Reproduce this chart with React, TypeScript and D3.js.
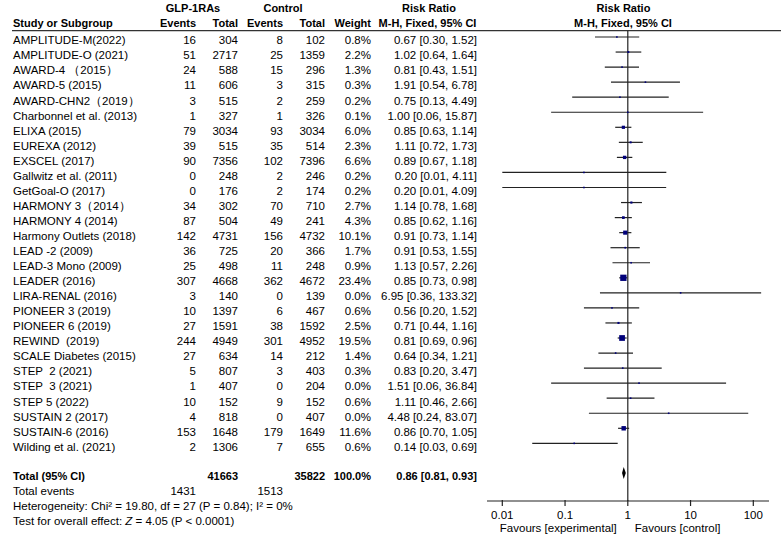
import React from "react";
import * as d3 from "d3";

const studies = [
  "AMPLITUDE-M(2022)", "AMPLITUDE-O (2021)", "AWARD-4 （2015）", "AWARD-5 (2015)", "AWARD-CHN2（2019）",
  "Charbonnel et al. (2013)", "ELIXA (2015)", "EUREXA (2012)", "EXSCEL (2017)", "Gallwitz et al. (2011)",
  "GetGoal-O (2017)", "HARMONY 3（2014）", "HARMONY 4 (2014)", "Harmony Outlets (2018)", "LEAD -2 (2009)",
  "LEAD-3 Mono (2009)", "LEADER (2016)", "LIRA-RENAL (2016)", "PIONEER 3 (2019)", "PIONEER 6 (2019)",
  "REWIND  (2019)", "SCALE Diabetes (2015)", "STEP  2 (2021)", "STEP  3 (2021)", "STEP 5 (2022)",
  "SUSTAIN 2 (2017)", "SUSTAIN-6 (2016)", "Wilding et al. (2021)",
];
const expEvents = [16, 51, 24, 11, 3, 1, 79, 39, 90, 0, 0, 34, 87, 142, 36, 25, 307, 3, 10, 27, 244, 27, 5, 1, 10, 4, 153, 2];
const expTotal = [304, 2717, 588, 606, 515, 327, 3034, 515, 7356, 248, 176, 302, 504, 4731, 725, 498, 4668, 140, 1397, 1591, 4949, 634, 807, 407, 152, 818, 1648, 1306];
const ctlEvents = [8, 25, 15, 3, 2, 1, 93, 35, 102, 2, 2, 70, 49, 156, 20, 11, 362, 0, 6, 38, 301, 14, 3, 0, 9, 0, 179, 7];
const ctlTotal = [102, 1359, 296, 315, 259, 326, 3034, 514, 7396, 246, 174, 710, 241, 4732, 366, 248, 4672, 139, 467, 1592, 4952, 212, 403, 204, 152, 407, 1649, 655];
const weights = [0.8, 2.2, 1.3, 0.3, 0.2, 0.1, 6.0, 2.3, 6.6, 0.2, 0.2, 2.7, 4.3, 10.1, 1.7, 0.9, 23.4, 0.0, 0.6, 2.5, 19.5, 1.4, 0.3, 0.0, 0.6, 0.0, 11.6, 0.6];
const rr = [0.67, 1.02, 0.81, 1.91, 0.75, 1.0, 0.85, 1.11, 0.89, 0.2, 0.2, 1.14, 0.85, 0.91, 0.91, 1.13, 0.85, 6.95, 0.56, 0.71, 0.81, 0.64, 0.83, 1.51, 1.11, 4.48, 0.86, 0.14];
const lower = [0.3, 0.64, 0.43, 0.54, 0.13, 0.06, 0.63, 0.72, 0.67, 0.01, 0.01, 0.78, 0.62, 0.73, 0.53, 0.57, 0.73, 0.36, 0.2, 0.44, 0.69, 0.34, 0.2, 0.06, 0.46, 0.24, 0.7, 0.03];
const upper = [1.52, 1.64, 1.51, 6.78, 4.49, 15.87, 1.14, 1.73, 1.18, 4.11, 4.09, 1.68, 1.16, 1.14, 1.55, 2.26, 0.98, 133.32, 1.52, 1.16, 0.96, 1.21, 3.47, 36.84, 2.66, 83.07, 1.05, 0.69];

const totalRR = 0.86;
const totalLower = 0.81;
const totalUpper = 0.93;
const totalExp = 41663;
const totalCtl = 35822;
const totalExpEvents = 1431;
const totalCtlEvents = 1513;
const axisTicks = [0.01, 0.1, 1, 10, 100];
const axisTickLabels = ["0.01", "0.1", "1", "10", "100"];

const fmt2 = d3.format(".2f");

export default function App() {
  const W = 783, H = 539;
  const font = "Liberation Sans, Arial, sans-serif";
  const x = d3.scaleLog().domain([0.01, 100]).range([502.3, 753.3]);
  const y0 = 37, step = 15.05;
  const lineY = (i: number) => y0 + i * step;
  const tOff = 3.3;
  const totalY = 473;
  const axisY = 501;
  const txt = "#000";
  const sq = (w: number) => Math.max(1.6, 1.3 * Math.sqrt(w));

  const colX = { name: 13, ee: 196, et: 238, ce: 283, ct: 325, w: 371, ci: 477 };

  return (
    <svg width={W} height={H} style={{ position: "absolute", left: 0, top: 0, background: "#fff" }}
      fontFamily={font} fontSize={11.5} fill={txt}>
      <rect x={0} y={0} width={W} height={H} fill="#fff" />
      {/* headers */}
      <g fontWeight="bold" fontSize={11}>
        <text x={193} y={8.5} dy="0.35em" textAnchor="middle">GLP-1RAs</text>
        <text x={283} y={8.5} dy="0.35em" textAnchor="middle">Control</text>
        <text x={429} y={8.5} dy="0.35em" textAnchor="middle">Risk Ratio</text>
        <text x={623.5} y={8.5} dy="0.35em" textAnchor="middle">Risk Ratio</text>
        <text x={colX.name} y={23.3} dy="0.35em">Study or Subgroup</text>
        <text x={colX.ee} y={23.3} dy="0.35em" textAnchor="end">Events</text>
        <text x={colX.et} y={23.3} dy="0.35em" textAnchor="end">Total</text>
        <text x={colX.ce} y={23.3} dy="0.35em" textAnchor="end">Events</text>
        <text x={colX.ct} y={23.3} dy="0.35em" textAnchor="end">Total</text>
        <text x={colX.w} y={23.3} dy="0.35em" textAnchor="end">Weight</text>
        <text x={427.5} y={23.3} dy="0.35em" textAnchor="middle">M-H, Fixed, 95% CI</text>
        <text x={623} y={23.3} dy="0.35em" textAnchor="middle">M-H, Fixed, 95% CI</text>
      </g>
      <line x1={12} x2={781} y1={30.7} y2={30.7} stroke="#333" strokeWidth={1.2} />

      {/* rows */}
      {studies.map((s, i) => {
        const yy = lineY(i) + tOff;
        return (
          <g key={s}>
            <text x={colX.name} y={yy} dy="0.35em" style={{ whiteSpace: "pre" }}>{s}</text>
            <text x={colX.ee} y={yy} dy="0.35em" textAnchor="end">{expEvents[i]}</text>
            <text x={colX.et} y={yy} dy="0.35em" textAnchor="end">{expTotal[i]}</text>
            <text x={colX.ce} y={yy} dy="0.35em" textAnchor="end">{ctlEvents[i]}</text>
            <text x={colX.ct} y={yy} dy="0.35em" textAnchor="end">{ctlTotal[i]}</text>
            <text x={colX.w} y={yy} dy="0.35em" textAnchor="end">{weights[i].toFixed(1)}%</text>
            <text x={colX.ci} y={yy} dy="0.35em" textAnchor="end">
              {`${fmt2(rr[i])} [${fmt2(lower[i])}, ${fmt2(upper[i])}]`}
            </text>
          </g>
        );
      })}

      {/* totals */}
      <g fontWeight="bold" fontSize={11}>
        <text x={colX.name} y={totalY + tOff} dy="0.35em">Total (95% CI)</text>
        <text x={colX.et} y={totalY + tOff} dy="0.35em" textAnchor="end">{totalExp}</text>
        <text x={colX.ct} y={totalY + tOff} dy="0.35em" textAnchor="end">{totalCtl}</text>
        <text x={colX.w} y={totalY + tOff} dy="0.35em" textAnchor="end">100.0%</text>
        <text x={colX.ci} y={totalY + tOff} dy="0.35em" textAnchor="end">
          {`${fmt2(totalRR)} [${fmt2(totalLower)}, ${fmt2(totalUpper)}]`}
        </text>
      </g>
      <text x={colX.name} y={totalY + tOff + 15} dy="0.35em">Total events</text>
      <text x={colX.ee} y={totalY + tOff + 15} dy="0.35em" textAnchor="end">{totalExpEvents}</text>
      <text x={colX.ce} y={totalY + tOff + 15} dy="0.35em" textAnchor="end">{totalCtlEvents}</text>
      <text x={colX.name} y={totalY + tOff + 30} dy="0.35em">Heterogeneity: Chi² = 19.80, df = 27 (P = 0.84); I² = 0%</text>
      <text x={colX.name} y={totalY + tOff + 45} dy="0.35em">
        Test for overall effect: <tspan fontStyle="italic">Z</tspan> = 4.05 (P &lt; 0.0001)
      </text>

      {/* forest plot */}
      <line x1={x(1)} x2={x(1)} y1={30.7} y2={axisY} stroke="#222" strokeWidth={1.2} />
      {studies.map((s, i) => {
        const yy = lineY(i);
        const sz = sq(weights[i]);
        return (
          <g key={"p" + s}>
            <line x1={x(lower[i])} x2={x(upper[i])} y1={yy} y2={yy} stroke="#222" strokeWidth={1.2} />
            <rect x={x(rr[i]) - sz / 2} y={yy - sz / 2} width={sz} height={sz} fill="#00007a" />
          </g>
        );
      })}
      <path
        d={`M${x(totalLower)},${totalY} L${x(totalRR)},${totalY - 6} L${x(totalUpper)},${totalY} L${x(totalRR)},${totalY + 6} Z`}
        fill="#000"
      />

      {/* axis */}
      <line x1={487} x2={769} y1={axisY} y2={axisY} stroke="#222" strokeWidth={1.2} />
      {axisTicks.map((t, i) => (
        <g key={"t" + t}>
          <line x1={x(t)} x2={x(t)} y1={axisY - 1} y2={axisY + 5} stroke="#222" strokeWidth={1.2} />
          <text x={x(t)} y={515} dy="0.35em" textAnchor="middle">{axisTickLabels[i]}</text>
        </g>
      ))}
      <text x={x(1) - 11} y={528} dy="0.35em" textAnchor="end">Favours [experimental]</text>
      <text x={x(1) + 7} y={528} dy="0.35em">Favours [control]</text>
    </svg>
  );
}
